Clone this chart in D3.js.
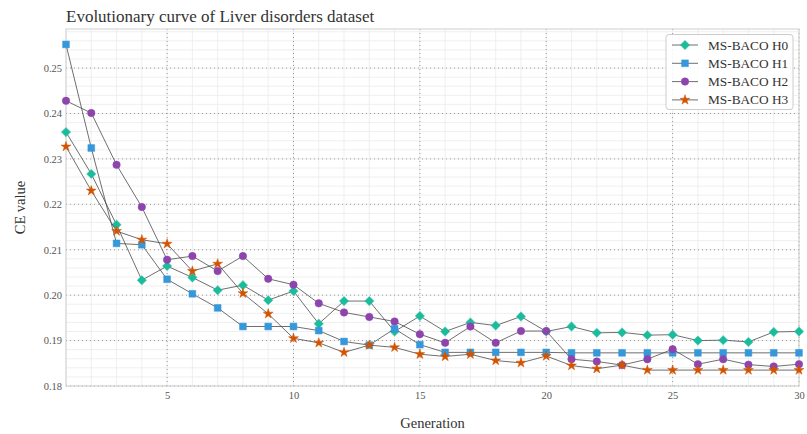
<!DOCTYPE html>
<html><head><meta charset="utf-8">
<script src="https://cdn.jsdelivr.net/npm/d3@7"></script>
<style>body{margin:0;background:#fff}svg{display:block}</style>
</head><body>
<svg id="c" width="807" height="434"></svg>
<script>
const generations = d3.range(1, 31);
const seriesNames = ["MS-BACO H0", "MS-BACO H1", "MS-BACO H2", "MS-BACO H3"];
const h0 = [0.2359,0.2267,0.2155,0.2033,0.2064,0.2039,0.2011,0.2022,0.1989,0.2009,0.1937,0.1987,0.1987,0.1920,0.1954,0.1920,0.1940,0.1933,0.1953,0.1920,0.1931,0.1917,0.1918,0.1912,0.1913,0.1900,0.1901,0.1897,0.1919,0.1920];
const h1 = [0.2552,0.2324,0.2114,0.2111,0.2035,0.2003,0.1972,0.1931,0.1931,0.1931,0.1922,0.1898,0.1890,0.1926,0.1891,0.1874,0.1874,0.1874,0.1874,0.1874,0.1873,0.1873,0.1873,0.1873,0.1873,0.1873,0.1873,0.1873,0.1873,0.1873];
const h2 = [0.2428,0.2401,0.2287,0.2194,0.2078,0.2086,0.2053,0.2086,0.2036,0.2023,0.1982,0.1962,0.1952,0.1942,0.1914,0.1895,0.1931,0.1895,0.1921,0.1921,0.1859,0.1854,0.1846,0.1859,0.1881,0.1848,0.1859,0.1847,0.1843,0.1848];
const h3 = [0.2327,0.2230,0.2141,0.2122,0.2113,0.2053,0.2069,0.2004,0.1959,0.1905,0.1895,0.1874,0.1890,0.1885,0.1870,0.1865,0.1870,0.1856,0.1851,0.1866,0.1845,0.1838,0.1846,0.1835,0.1835,0.1835,0.1835,0.1835,0.1835,0.1835];
const xTicks = [5, 10, 15, 20, 25, 30];
const yTicks = [0.18, 0.19, 0.20, 0.21, 0.22, 0.23, 0.24, 0.25];
const colors = ["#1abc9c", "#3498db", "#8e44ad", "#d35400"];
const allSeries = [h0, h1, h2, h3];

const svg = d3.select("#c");
const L = 66, R = 799, T = 29, B = 386;
const x = d3.scaleLinear().domain([1, 30]).range([L, R]);
const y = d3.scaleLinear().domain([0.18, 0.2586]).range([B, T]);
const serif = "'Liberation Serif','Times New Roman',serif";

// minor grid
const g = svg.append("g");
g.selectAll("line.mx").data(d3.range(1, 31)).join("line")
  .attr("x1", d => x(d)).attr("x2", d => x(d)).attr("y1", T).attr("y2", B)
  .attr("stroke", "#ebebeb").attr("stroke-width", 0.8);
g.selectAll("line.my").data(d3.range(0.18, 0.2586, 0.002)).join("line")
  .attr("x1", L).attr("x2", R).attr("y1", d => y(d)).attr("y2", d => y(d))
  .attr("stroke", "#ebebeb").attr("stroke-width", 0.8);
// major grid
svg.append("g").selectAll("line").data(xTicks).join("line")
  .attr("x1", d => x(d)).attr("x2", d => x(d)).attr("y1", T).attr("y2", B)
  .attr("stroke", "#999").attr("stroke-width", 1).attr("stroke-dasharray", "1,3");
svg.append("g").selectAll("line").data(yTicks).join("line")
  .attr("x1", L).attr("x2", R).attr("y1", d => y(d)).attr("y2", d => y(d))
  .attr("stroke", "#999").attr("stroke-width", 1).attr("stroke-dasharray", "1,3");

// frame
svg.append("rect").attr("x", L).attr("y", T).attr("width", R - L).attr("height", B - T)
  .attr("fill", "none").attr("stroke", "#d0d0d0").attr("stroke-width", 1);

// axes
const xa = svg.append("g").attr("transform", `translate(0,${B})`)
  .call(d3.axisBottom(x).tickValues(xTicks).tickSize(0).tickPadding(6).tickFormat(d3.format("d")));
const ya = svg.append("g").attr("transform", `translate(${L},0)`)
  .call(d3.axisLeft(y).tickValues(yTicks).tickSize(0).tickPadding(4).tickFormat(d3.format(".2f")));
[xa, ya].forEach(a => {
  a.select(".domain").remove();
  a.selectAll("text").attr("font-family", serif).attr("font-size", 10.5).attr("fill", "#555");
});

// series
const symbols = [
  d3.symbol().type(d3.symbolSquare).size(40),
  d3.symbol().type(d3.symbolSquare).size(46),
  d3.symbol().type(d3.symbolCircle).size(44),
  d3.symbol().type(d3.symbolStar).size(30)
];
const rot = [45, 0, 0, 0];
const line = d3.line().x((d, i) => x(generations[i])).y(d => y(d));
allSeries.forEach((s, k) => {
  const sg = svg.append("g");
  sg.append("path").attr("d", line(s)).attr("fill", "none").attr("stroke", "#4a4a4a").attr("stroke-width", 0.8);
  sg.selectAll("path.m").data(s).join("path").attr("class", "m")
    .attr("d", symbols[k])
    .attr("transform", (d, i) => `translate(${x(generations[i])},${y(d)}) rotate(${rot[k]})`)
    .attr("fill", colors[k]).attr("stroke", colors[k]).attr("stroke-opacity", 0.5).attr("stroke-width", 1);
});

// title & labels
svg.append("text").attr("x", L).attr("y", 22).attr("font-family", serif).attr("font-size", 17)
  .attr("fill", "#333").text("Evolutionary curve of Liver disorders dataset");
svg.append("text").attr("transform", `translate(25,${(T + B) / 2}) rotate(-90)`).attr("text-anchor", "middle")
  .attr("font-family", serif).attr("font-size", 14.5).attr("fill", "#333").text("CE value");
svg.append("text").attr("x", (L + R) / 2).attr("y", 428).attr("text-anchor", "middle")
  .attr("font-family", serif).attr("font-size", 14.5).attr("fill", "#333").text("Generation");

// legend
const lg = svg.append("g");
lg.append("rect").attr("x", 666).attr("y", 34.5).attr("width", 127).attr("height", 75).attr("rx", 3)
  .attr("fill", "#fff").attr("fill-opacity", 0.85).attr("stroke", "#ccc").attr("stroke-width", 1);
seriesNames.forEach((n, k) => {
  const yy = 45 + k * 18.3;
  lg.append("line").attr("x1", 672).attr("x2", 698).attr("y1", yy).attr("y2", yy)
    .attr("stroke", "#4a4a4a").attr("stroke-width", 0.8);
  lg.append("path").attr("d", symbols[k]).attr("transform", `translate(685,${yy}) rotate(${rot[k]})`)
    .attr("fill", colors[k]).attr("stroke", colors[k]).attr("stroke-opacity", 0.5);
  lg.append("text").attr("x", 708).attr("y", yy + 4.5).attr("font-family", serif).attr("font-size", 13.3)
    .attr("fill", "#333").text(n);
});
</script>
</body></html>
